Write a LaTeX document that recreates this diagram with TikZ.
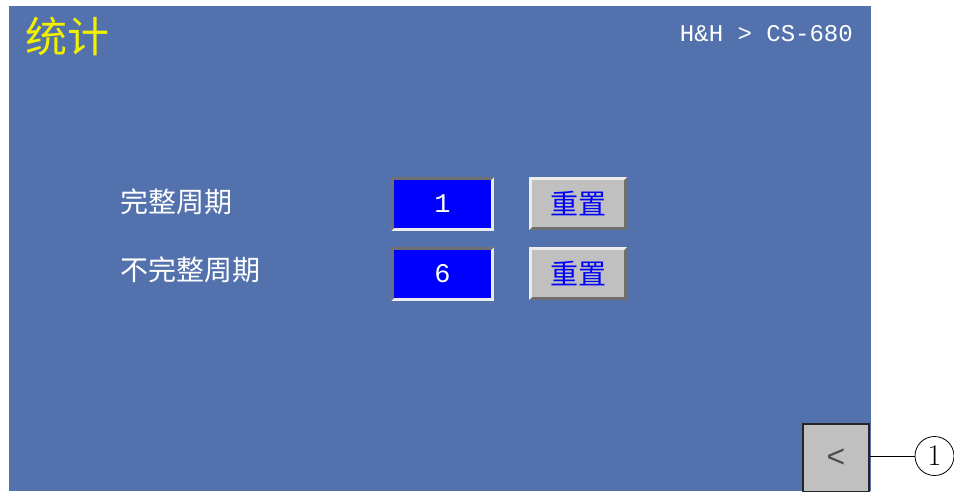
\documentclass[tikz,border=0pt]{standalone}
\usepackage{fontspec}
\newfontfamily\cjk{Noto Sans CJK SC}
\newfontfamily\mono{Liberation Mono}
\definecolor{panel}{RGB}{82,113,173}
\definecolor{valblue}{RGB}{0,0,255}
\definecolor{btngray}{RGB}{192,192,192}
\definecolor{bevdark}{RGB}{112,112,112}
\definecolor{bevlight}{RGB}{236,236,236}
\definecolor{titleyellow}{RGB}{240,240,0}
\newcommand\bevelrect[6]{%
  \fill[#6] (#1,#2) rectangle (#3,#4);
  \fill[#5] (#1,#2) -- (#3,#2) -- ({#3-3},{#2+3}) -- ({#1+3},{#2+3}) -- ({#1+3},{#4-3}) -- (#1,#4) -- cycle;
}
\tikzset{
  valbox/.style={rectangle, inner sep=0pt, outer sep=0pt, fill=valblue,
    minimum width=97pt, minimum height=48pt, text=white, font=\mono\fontsize{27}{27}\selectfont},
  resetbtn/.style={rectangle, inner sep=0pt, outer sep=0pt, fill=btngray,
    minimum width=92pt, minimum height=47pt, text=valblue, font=\cjk\fontsize{28}{28}\selectfont},
  label/.style={anchor=west, inner sep=0pt, text=white, font=\cjk\fontsize{28}{28}\selectfont},
  backbtn/.style={rectangle, draw=black!85, line width=1.5pt, fill=btngray, inner sep=0pt,
    minimum width=66pt, minimum height=68pt, text=black!70, font=\mono\fontsize{32}{32}\selectfont},
  callout/.style={circle, draw, line width=0.8pt, minimum size=39pt, inner sep=0pt,
    font=\fontsize{30}{30}\selectfont},
}
\begin{document}
\begin{tikzpicture}[x=1pt,y=-1pt]
\useasboundingbox (0,0) rectangle (954,491);
\fill[panel] (9,6) rectangle (871,491);
% title and breadcrumb
\node[anchor=west, inner sep=0pt, text=titleyellow, font=\cjk\fontsize{42}{42}\selectfont] (title) at (25,36) {统计};
\node[anchor=east, inner sep=0pt, text=white, font=\mono\fontsize{24}{24}\selectfont] (crumb) at (853,34) {H\&H > CS-680};
% labels
\node[label] (l1) at (120,202) {完整周期};
\node[label] (l2) at (120,270) {不完整周期};
% value boxes
\bevelrect{391}{177}{494}{231}{bevdark}{bevlight}
\node[valbox] (v1) at (442.5,204) {1};
\bevelrect{391}{247}{494}{301}{bevdark}{bevlight}
\node[valbox] (v2) at (442.5,274) {6};
% reset buttons
\bevelrect{529}{177}{627}{230}{bevlight}{bevdark}
\node[resetbtn] (r1) at (578,203.5) {重置};
\bevelrect{529}{247}{627}{300}{bevlight}{bevdark}
\node[resetbtn] (r2) at (578,273.5) {重置};
% back button and callout
\node[backbtn] (back) at (836,458) {<};
\node[callout] (c1) at (934.5,456) {1};
\draw[line width=0.8pt] (back.east |- c1.west) -- (c1.west);
\end{tikzpicture}
\end{document}
